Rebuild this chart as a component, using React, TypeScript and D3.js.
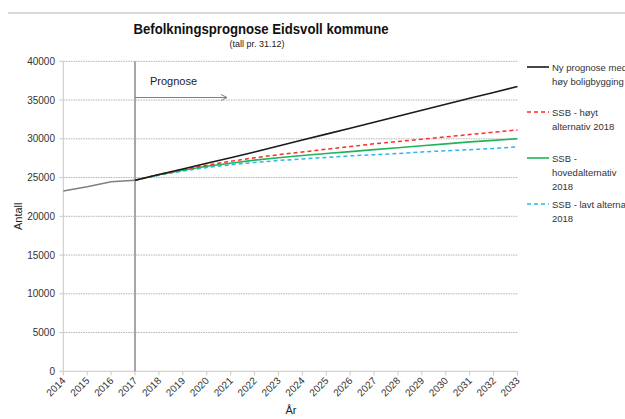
import React from "react";
import * as d3 from "d3";

const years = d3.range(2014, 2034);
const histYears = [2014, 2015, 2016, 2017];
const histValues = [23250, 23800, 24450, 24650];
const progYears = d3.range(2017, 2034);
const nyPrognose = [24650, 25400, 26100, 26850, 27550, 28300, 29070, 29840, 30600, 31370, 32140, 32910, 33680, 34450, 35220, 35980, 36750];
const ssbHoy = [24650, 25400, 26050, 26600, 27100, 27550, 27950, 28300, 28650, 29000, 29350, 29650, 29950, 30250, 30550, 30850, 31150];
const ssbHoved = [24650, 25350, 25950, 26450, 26850, 27250, 27550, 27850, 28100, 28350, 28600, 28850, 29100, 29350, 29600, 29800, 30000];
const ssbLav = [24650, 25300, 25850, 26300, 26650, 26950, 27200, 27400, 27600, 27800, 27950, 28100, 28300, 28450, 28600, 28750, 28950];
const yTicks = [0, 5000, 10000, 15000, 20000, 25000, 30000, 35000, 40000];

const series = [
  { name: ["Ny prognose med", "høy boligbygging"], values: nyPrognose, color: "#1a1a1a", dash: "", width: 1.6, ly: 67 },
  { name: ["SSB - høyt", "alternativ 2018"], values: ssbHoy, color: "#ff2a2a", dash: "4,3", width: 1.5, ly: 112 },
  { name: ["SSB -", "hovedalternativ", "2018"], values: ssbHoved, color: "#1fb45a", dash: "", width: 1.6, ly: 158 },
  { name: ["SSB - lavt alternativ", "2018"], values: ssbLav, color: "#2ab8ee", dash: "4,3", width: 1.5, ly: 204 },
];

const FONT = "'Liberation Sans', Arial, sans-serif";

export default function App() {
  const x = d3.scaleLinear().domain([2014, 2033]).range([63.3, 517.5]);
  const y = d3.scaleLinear().domain([0, 40000]).range([371.3, 61.3]);
  const line = d3
    .line<[number, number]>()
    .x((d) => x(d[0]))
    .y((d) => y(d[1]));

  return (
    <svg
      width={625}
      height={419}
      style={{ position: "fixed", left: 0, top: 0, background: "#fff" }}
      fontFamily={FONT}
    >
      <rect x={0} y={0} width={625} height={419} fill="#fff" />
      <line x1={8} x2={625} y1={13} y2={13} stroke="#d9d9d9" strokeWidth={2} />
      <text x={261} y={34} textAnchor="middle" fontWeight="bold" fontSize={15} textLength={255} lengthAdjust="spacingAndGlyphs" fill="#111">
        Befolkningsprognose Eidsvoll kommune
      </text>
      <text x={257} y={47} textAnchor="middle" fontSize={9} fill="#222">
        (tall pr. 31.12)
      </text>

      {/* gridlines */}
      {yTicks.filter((t) => t > 0).map((t) => (
        <line key={t} x1={x(2014)} x2={x(2033)} y1={y(t)} y2={y(t)} stroke="#b0b0b0" strokeWidth={1} strokeDasharray="1.5,1" />
      ))}
      {/* axes */}
      <line x1={x(2014)} x2={x(2014)} y1={y(40000)} y2={y(0)} stroke="#c8c8c8" strokeWidth={1} />
      <line x1={x(2014)} x2={x(2033)} y1={y(0)} y2={y(0)} stroke="#c8c8c8" strokeWidth={1} />
      {yTicks.map((t) => (
        <g key={t}>
          <line x1={x(2014) - 4} x2={x(2014)} y1={y(t)} y2={y(t)} stroke="#c8c8c8" />
          <text x={55} y={y(t) + 3.5} textAnchor="end" fontSize={10} fill="#333">
            {t}
          </text>
        </g>
      ))}
      {years.map((yr) => (
        <g key={yr}>
          <line x1={x(yr)} x2={x(yr)} y1={y(0)} y2={y(0) + 4} stroke="#c8c8c8" />
          <text
            transform={`translate(${x(yr) + 3},${y(0) + 10}) rotate(-45)`}
            textAnchor="end"
            fontSize={10}
            fill="#333"
          >
            {yr}
          </text>
        </g>
      ))}
      <text x={291} y={414} textAnchor="middle" fontSize={11} fill="#222">År</text>
      <text transform={`translate(22,${y(20000)}) rotate(-90)`} textAnchor="middle" fontSize={11} fill="#222">
        Antall
      </text>

      {/* prognose marker */}
      <line x1={x(2017)} x2={x(2017)} y1={y(40000)} y2={y(0)} stroke="#a6a6a6" strokeWidth={2} />
      <text x={150} y={85} fontSize={11} fill="#222">Prognose</text>
      <line x1={x(2017)} x2={227} y1={97.5} y2={97.5} stroke="#808080" strokeWidth={1} />
      <path d="M221,94.5 L227,97.5 L221,100.5" fill="none" stroke="#808080" strokeWidth={1} />

      {/* lines */}
      <path d={line(histYears.map((yr, i) => [yr, histValues[i]]) as [number, number][]) || ""} fill="none" stroke="#7f7f7f" strokeWidth={1.5} />
      {[...series].reverse().map((s) => (
        <path
          key={s.name.join(" ")}
          d={line(progYears.map((yr, i) => [yr, s.values[i]]) as [number, number][]) || ""}
          fill="none"
          stroke={s.color}
          strokeWidth={s.width}
          strokeDasharray={s.dash}
        />
      ))}

      {/* legend */}
      {series.map((s) => (
        <g key={s.name.join("-")}>
          <line x1={527} x2={549} y1={s.ly} y2={s.ly} stroke={s.color} strokeWidth={s.width} strokeDasharray={s.dash} />
          {s.name.map((n, i) => (
            <text key={i} x={552} y={s.ly + 3.5 + i * 14} fontSize={9.5} fill="#333">
              {n}
            </text>
          ))}
        </g>
      ))}
    </svg>
  );
}
